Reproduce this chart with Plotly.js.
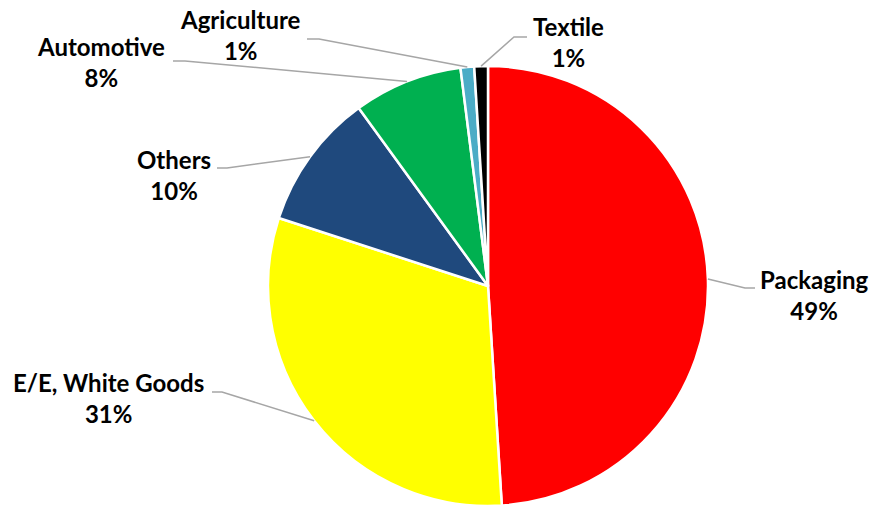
<!DOCTYPE html>
<html>
<head>
<meta charset="utf-8">
<script src="https://cdn.plot.ly/plotly-3.0.1.min.js"></script>
<style>html,body{margin:0;padding:0;background:#fff;}#chart{width:873px;height:507px;}</style>
</head>
<body>
<div id="chart"></div>
<script>
// Data
const labels = ['Packaging', 'E/E, White Goods', 'Others', 'Automotive', 'Agriculture', 'Textile'];
const values = [49, 31, 10, 8, 1, 1];
const colors = ['#FF0000', '#FFFF00', '#1F497D', '#00B050', '#4BACC6', '#000000'];

// Layout (pixel positions of label centres and leader-line elbows)
const W = 873, H = 507;
const pieCx = 488, pieCy = 286, pieR = 220;
const labelPos = [[814, 295], [108, 398], [174, 175], [101, 62], [240, 35], [568, 42]];
const elbows = [[745, 288, 755], [222, 392, 212], [227, 168, 217], [185, 61, 173], [319, 39, 307], [514, 37, 527]];

const px = x => x / W;
const py = y => 1 - y / H;

const total = values.reduce((a, b) => a + b, 0);
let cum = 0;
const shapes = [];
const annotations = [];
values.forEach((v, i) => {
  const theta = (cum + v / 2) / total * 2 * Math.PI;
  cum += v;
  const ex = pieCx + pieR * Math.sin(theta);
  const ey = pieCy - pieR * Math.cos(theta);
  const [bx, by, hx] = elbows[i];
  shapes.push({
    type: 'path', xref: 'paper', yref: 'paper',
    path: `M ${px(ex)} ${py(ey)} L ${px(bx)} ${py(by)} L ${px(hx)} ${py(by)}`,
    line: {color: '#A6A6A6', width: 1.5}
  });
  annotations.push({
    xref: 'paper', yref: 'paper', x: px(labelPos[i][0]), y: py(labelPos[i][1]),
    xanchor: 'center', yanchor: 'middle', showarrow: false, align: 'center',
    text: '<b>' + labels[i] + '</b><br><b>' + Math.round(v / total * 100) + '%</b>',
    font: {family: 'Lato, "Open Sans", sans-serif', size: 24, color: '#000000'}
  });
});

const trace = {
  type: 'pie', labels: labels, values: values, sort: false,
  direction: 'clockwise', rotation: 0, textinfo: 'none', hoverinfo: 'none',
  marker: {colors: colors, line: {color: '#FFFFFF', width: 2.5}},
  domain: {x: [268 / W, 708 / W], y: [1 - 506 / H, 1 - 66 / H]}
};

Plotly.newPlot('chart', [trace], {
  width: W, height: H, margin: {l: 0, r: 0, t: 0, b: 0},
  paper_bgcolor: '#FFFFFF', plot_bgcolor: '#FFFFFF', showlegend: false,
  shapes: shapes, annotations: annotations
}, {displayModeBar: false, staticPlot: true});
</script>
</body>
</html>
